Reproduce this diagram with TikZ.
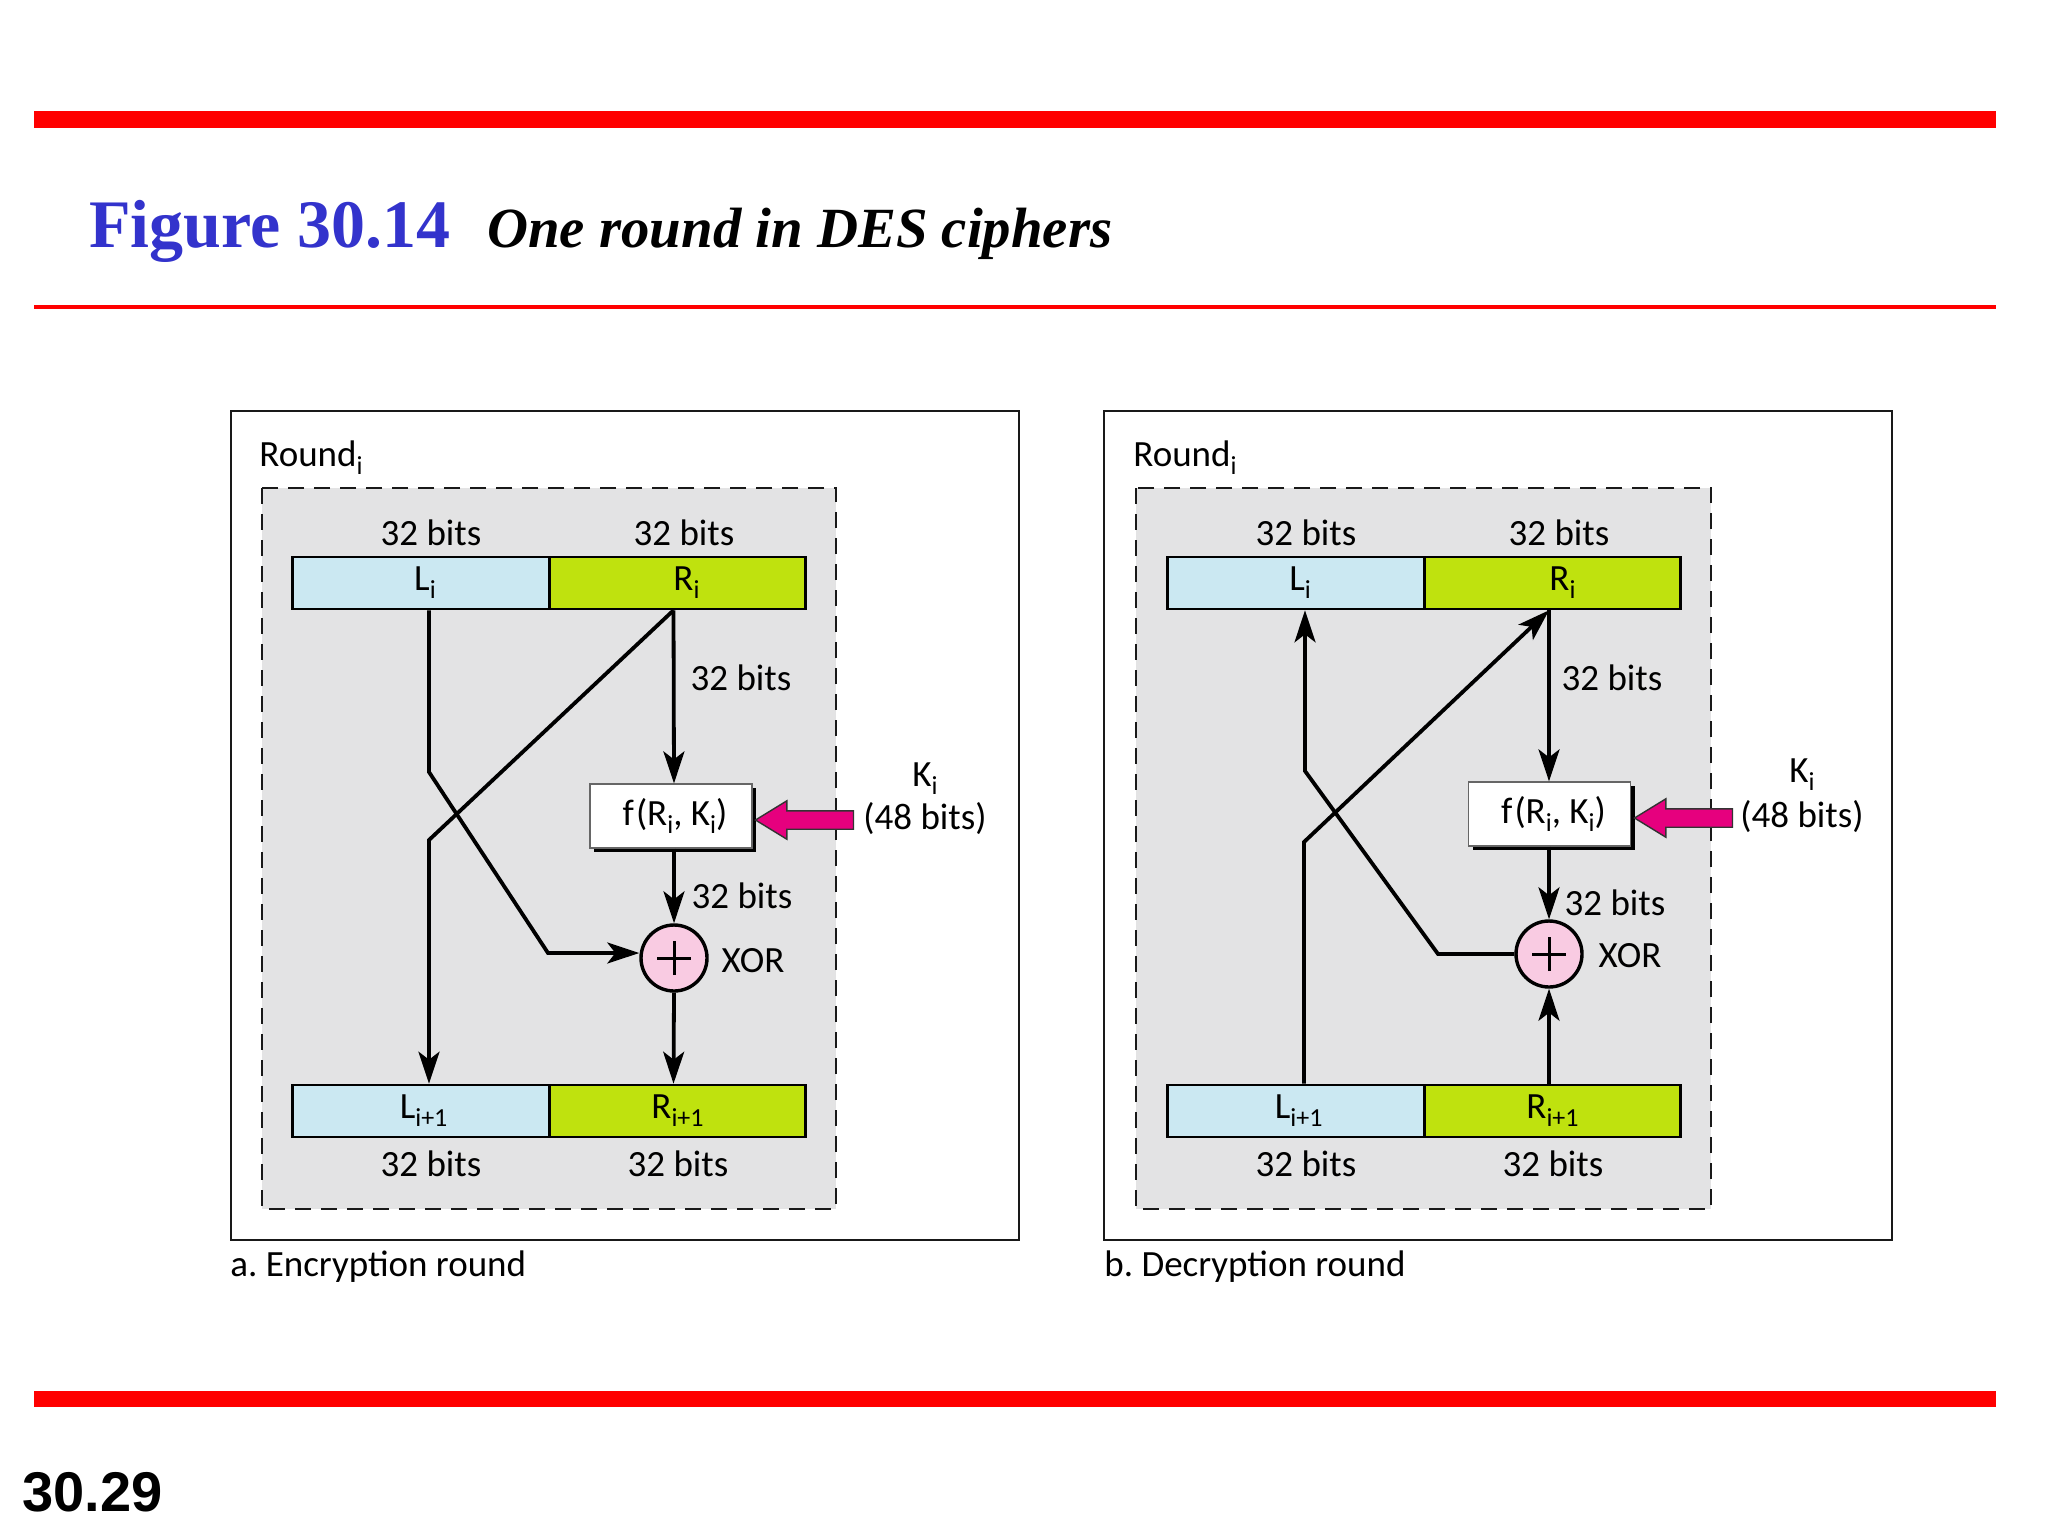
\documentclass[tikz,border=0pt]{standalone}
\usepackage{fontspec}
\setmainfont{Carlito}
\newfontfamily\titlefont{Liberation Serif}
\newfontfamily\pagefont{Liberation Sans}
\usetikzlibrary{arrows.meta,shapes.arrows,shadows}
\definecolor{titleblue}{HTML}{3333CC}
\definecolor{lbar}{HTML}{CBE8F2}
\definecolor{rbar}{HTML}{BFE20E}
\definecolor{xorpink}{HTML}{F9CBE2}
\definecolor{keypink}{HTML}{E6007E}
\definecolor{roundgray}{HTML}{E3E3E4}
\newcommand{\lowtext}[1]{\raisebox{-.45ex}{\fontsize{13}{13}\selectfont #1}}
\tikzset{
    line cap=butt,line join=miter,
    conn/.style={line width=1.9pt,-{Stealth[length=16pt,width=10.5pt,inset=4pt]}},
    panel/.style={draw=black!90,line width=1.4pt,fill=white},
    roundarea/.style={draw=black!90,fill=roundgray,line width=1.4pt,dash pattern=on 8pt off 5pt},
    lab/.style={inner sep=0pt,font=\frenchspacing\fontsize{18.5}{20}\selectfont},
    leftlab/.style={lab,anchor=west},
    lcell/.style={lab,draw=black,line width=1.3pt,fill=lbar,minimum width=128.25pt,minimum height=26pt},
    rcell/.style={lcell,fill=rbar},
    fbox/.style={lab,draw=black!60,line width=.6pt,fill=white,minimum width=81pt,minimum height=32pt,
        general shadow={fill=black,shadow xshift=2.2pt,shadow yshift=-2.2pt}},
    xorc/.style={circle,draw=black,line width=1.7pt,fill=xorpink,minimum size=33pt,inner sep=0pt,
        path picture={\draw[line width=1.5pt] (path picture bounding box.center) +(-8.5pt,0) -- +(8.5pt,0)
        (path picture bounding box.center) +(0,-8.5pt) -- +(0,8.5pt);}},
    keyarrow/.style={single arrow,draw=black!80,line width=.7pt,fill=keypink,shape border rotate=180,
        text height=8.5pt,text depth=0pt,text width=0pt,inner sep=0pt,minimum height=49pt,
        single arrow head extend=5pt,single arrow tip angle=63},
}
\begin{document}
\begin{tikzpicture}[x=.5pt,y=-.5pt]
    \useasboundingbox (0,0) rectangle (2048,1536);

    % slide rules
    \fill[red] (34,111) rectangle (1996,128);
    \fill[red] (34,305) rectangle (1996,309);
    \fill[red] (34,1391) rectangle (1996,1407);
    \node[anchor=base west,inner sep=0pt,text=titleblue,font=\titlefont\bfseries\fontsize{34}{36}\selectfont] (figno) at (89,247) {Figure 30.14};
    \node[anchor=base west,inner sep=0pt,font=\titlefont\bfseries\itshape\fontsize{28.4}{30}\selectfont] (figtitle) at (487,247) {One round in DES ciphers};
    \node[anchor=base west,inner sep=0pt,font=\pagefont\bfseries\fontsize{28}{30}\selectfont] (pageno) at (22,1511) {30.29};

    % encryption
    \draw[panel] (231,411) rectangle (1019,1240);
    \draw[roundarea] (262,488) rectangle (836,1209);
    \node[leftlab] (around) at (259,458) {Round\lowtext{i}};
    \node[leftlab] (acap) at (230,1267) {a. Encryption round};

    \node[lcell] (aL) at (421,583) {\hspace{4pt}L\lowtext{i}};
    \node[rcell] (aR) at (677.5,583) {\hspace{9pt}R\lowtext{i}};
    \node[lcell] (aLn) at (421,1111) {\hspace{2.6pt}L\lowtext{i+1}};
    \node[rcell] (aRn) at (677.5,1111) {R\lowtext{i+1}};
    \node[fbox] (af) at (671,816) {\hspace{4pt}f\kern1pt(R\lowtext{i}, K\lowtext{i})};
    \node[xorc] (axor) at (674,958) {};
    \node[keyarrow] (akey) at (812,820) {};

    \node[lab] (abits1) at (431,533) {32 bits};
    \node[lab] (abits2) at (684,533) {32 bits};
    \node[lab] (abits3) at (741,678) {32 bits};
    \node[lab] (abits4) at (742,896) {32 bits};
    \node[lab] (abits5) at (431,1164) {32 bits};
    \node[lab] (abits6) at (678,1164) {32 bits};
    \node[lab] (axorlab) at (753,961) {XOR};
    \node[lab] (aKlab) at (925,779) {K\lowtext{i}};
    \node[lab] (aKbits) at (925,819) {(48 bits)};

    \coordinate (abend1) at (429,772);
    \coordinate (abend2) at (548,953);
    \coordinate (abend3) at (429,840);
    \draw[conn] ([xshift=4pt]aL.south) -- (abend1) -- (abend2) -- (axor.west |- abend2);
    \draw[conn] ([xshift=-2pt]aR.south) -- (abend3) -- ([xshift=4pt]aLn.north);
    \draw[conn] ([xshift=-2pt]aR.south) -- (af.north -| axor);
    \draw[conn] (af.south -| axor) -- (axor.north);
    \draw[conn] (axor.south) -- ([xshift=-2pt]aRn.north);

    % decryption
    \draw[panel] (1104,411) rectangle (1892,1240);
    \draw[roundarea] (1136,488) rectangle (1711,1209);
    \node[leftlab] (bround) at (1133,458) {Round\lowtext{i}};
    \node[leftlab] (bcap) at (1104,1267) {b. Decryption round};

    \node[lcell] (bL) at (1296,583) {\hspace{4pt}L\lowtext{i}};
    \node[rcell] (bR) at (1552.5,583) {\hspace{10pt}R\lowtext{i}};
    \node[lcell] (bLn) at (1296,1111) {\hspace{2.6pt}L\lowtext{i+1}};
    \node[rcell] (bRn) at (1552.5,1111) {R\lowtext{i+1}};
    \node[fbox] (bf) at (1549.5,814) {\hspace{4pt}f\kern1pt(R\lowtext{i}, K\lowtext{i})};
    \node[xorc] (bxor) at (1549,954) {};
    \node[keyarrow] (bkey) at (1691,818) {};

    \node[lab] (bbits1) at (1306,533) {32 bits};
    \node[lab] (bbits2) at (1559,533) {32 bits};
    \node[lab] (bbits3) at (1612,678) {32 bits};
    \node[lab] (bbits4) at (1615,903) {32 bits};
    \node[lab] (bbits5) at (1306,1164) {32 bits};
    \node[lab] (bbits6) at (1553,1164) {32 bits};
    \node[lab] (bxorlab) at (1630,956) {XOR};
    \node[lab] (bKlab) at (1802,775) {K\lowtext{i}};
    \node[lab] (bKbits) at (1802,817) {(48 bits)};

    \coordinate (bbend1) at (1438,954);
    \coordinate (bbend2) at (1305,771);
    \coordinate (bbend3) at (1304,842);
    \draw[conn] (bxor.west) -- (bbend1) -- (bbend2) -- ([xshift=4.5pt]bL.south);
    \draw[conn] ([xshift=4pt]bLn.north) -- (bbend3) -- ([xshift=-1.75pt]bR.south);
    \draw[conn] ([xshift=-1.75pt]bR.south) -- (bf.north -| bxor);
    \draw[conn] (bf.south -| bxor) -- (bxor.north);
    \draw[conn] ([xshift=-1.75pt]bRn.north) -- (bxor.south);
\end{tikzpicture}
\end{document}
